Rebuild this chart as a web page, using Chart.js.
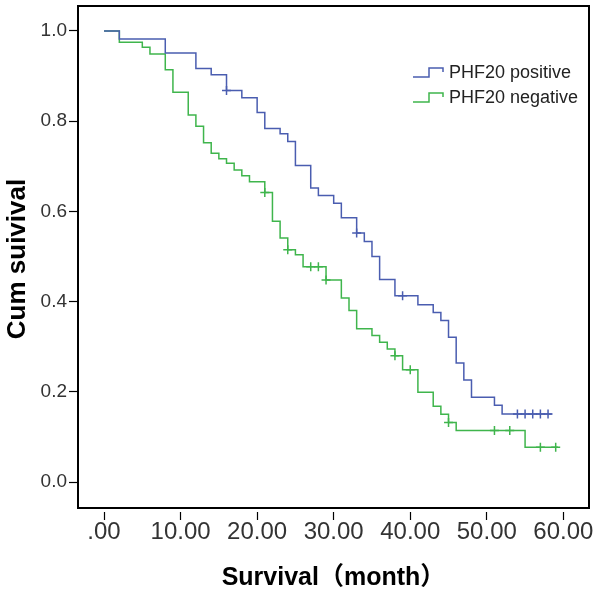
<!DOCTYPE html>
<html>
<head>
<meta charset="utf-8">
<title>PHF20 survival</title>
<script src="https://cdn.jsdelivr.net/npm/chart.js@4.4.1/dist/chart.umd.min.js"></script>
<style>
  html, body { margin: 0; padding: 0; background: #fff; }
  #wrap { position: relative; width: 600px; height: 594px; }
</style>
</head>
<body>
<div id="wrap"><canvas id="km"></canvas></div>
<script>
(function () {
  'use strict';

  /* ---------------------------------------------------------------- data */
  // PHF20 positive: step times (month) and cum survival after each step
  const POS_T = [0, 2, 8, 12, 14, 16, 18, 20, 21, 23, 24, 25, 27, 28, 30, 31, 33, 34, 35, 36, 38, 41, 43, 44, 45, 46, 47, 48, 51, 52, 58.5];
  const POS_S = [1.0, .982, .951, .917, .903, .868, .852, .819, .784, .772, .755, .702, .652, .635, .618, .586, .552, .533, .500, .449, .413, .393, .376, .358, .321, .264, .226, .188, .170, .151, .151];
  // censored cases
  const POS_CT = [16, 33, 39, 54, 55, 56, 57, 58];
  const POS_CS = [.868, .552, .413, .151, .151, .151, .151, .151];

  // PHF20 negative
  const NEG_T = [0, 2, 5, 6, 8, 9, 11, 12, 13, 14, 15, 16, 17, 18, 19, 21, 22, 23, 24, 25, 26, 29, 31, 32, 33, 35, 36, 37, 38, 39, 41, 43, 44, 45, 46, 55, 59.3];
  const NEG_S = [1.0, .975, .964, .949, .914, .864, .814, .789, .752, .729, .717, .707, .692, .679, .666, .642, .578, .541, .515, .504, .477, .448, .408, .380, .340, .325, .310, .295, .280, .249, .199, .168, .150, .132, .114, .077, .077];
  const NEG_CT = [21, 24, 27, 28, 29, 38, 40, 45, 51, 53, 57, 59];
  const NEG_CS = [.642, .515, .477, .477, .448, .280, .249, .132, .114, .114, .077, .077];

  const X_TICKS = [0, 10, 20, 30, 40, 50, 60];
  const Y_TICKS = [0, .2, .4, .6, .8, 1.0];
  const LABELS = ['PHF20 positive', 'PHF20 negative'];

  const COL = { pos: '#4a5db0', neg: '#3fb54c', ink: '#000', tick: '#333' };
  const FONT = "'Liberation Sans', Arial, 'Noto Sans CJK SC', sans-serif";

  function pts(xs, ys) {
    return xs.map(function (x, i) { return { x: x, y: ys[i] }; });
  }

  function curve(label, xs, ys, color) {
    return {
      label: label, data: pts(xs, ys), borderColor: color, borderWidth: 1.5,
      stepped: 'before', pointRadius: 0, fill: false,
    };
  }

  function censor(xs, ys, color) {
    return {
      label: '', data: pts(xs, ys), showLine: false, borderColor: color,
      pointStyle: 'cross', pointRadius: 4.5, pointBorderWidth: 1.5, pointHoverRadius: 0,
    };
  }

  // keep tick labels from pushing the plot box around
  function noPad(s) {
    s.paddingTop = 0; s.paddingBottom = 0; s.paddingLeft = 0; s.paddingRight = 0;
  }

  /* ------------------------------------------------------------ plugins */
  // black box around the plot (bottom edge sits a bit above the x ticks)
  const framePlugin = {
    id: 'frame',
    afterDraw: function (chart) {
      const a = chart.chartArea, ctx = chart.ctx;
      ctx.save();
      ctx.strokeStyle = COL.ink;
      ctx.lineWidth = 2;
      ctx.strokeRect(a.left, a.top, a.right - a.left, a.bottom - 4 - a.top);
      ctx.restore();
    },
  };

  // SPSS-style legend with step icons
  const legendPlugin = {
    id: 'kmLegend',
    afterDraw: function (chart) {
      const ctx = chart.ctx;
      const colors = [COL.pos, COL.neg];
      ctx.save();
      ctx.font = '18px ' + FONT;
      ctx.textBaseline = 'middle';
      LABELS.forEach(function (txt, i) {
        const cy = 73 + i * 25;
        ctx.strokeStyle = colors[i];
        ctx.lineWidth = 1.5;
        ctx.beginPath();
        ctx.moveTo(413, cy + 4);
        ctx.lineTo(429, cy + 4);
        ctx.lineTo(429, cy - 5);
        ctx.lineTo(443, cy - 5);
        ctx.lineTo(443, cy - 1);
        ctx.stroke();
        ctx.fillStyle = '#222';
        ctx.fillText(txt, 449, cy);
      });
      ctx.restore();
    },
  };

  /* -------------------------------------------------------------- chart */
  const cv = document.getElementById('km');
  new Chart(cv, {
    type: 'line',
    data: {
      datasets: [
        curve(LABELS[0], POS_T, POS_S, COL.pos),
        curve(LABELS[1], NEG_T, NEG_S, COL.neg),
        censor(POS_CT, POS_CS, COL.pos),
        censor(NEG_CT, NEG_CS, COL.neg),
      ],
    },
    options: {
      responsive: true, maintainAspectRatio: false, animation: false,
      layout: { padding: { top: 6, right: 11, left: 0, bottom: 0 } },
      plugins: { legend: { display: false }, tooltip: { enabled: false } },
      scales: {
        x: {
          type: 'linear', min: -3.40, max: 63.35,
          afterBuildTicks: function (s) { s.ticks = X_TICKS.map(function (v) { return { value: v }; }); },
          afterFit: function (s) { s.height = 82; noPad(s); },
          grid: { drawOnChartArea: false, drawTicks: true, tickLength: 8, color: COL.ink, tickWidth: 1.2 },
          border: { display: false },
          ticks: {
            color: COL.tick, padding: -2, maxRotation: 0, autoSkip: false,
            font: { family: FONT, size: 24 },
            callback: function (v) { return v === 0 ? '.00' : v.toFixed(2); },
          },
          title: {
            display: true, text: 'Survival（month）', color: COL.ink,
            font: { family: FONT, size: 25, weight: 'bold' }, padding: { top: 0, bottom: 1 },
          },
        },
        y: {
          type: 'linear', min: -0.0665, max: 1.0554,
          afterBuildTicks: function (s) { s.ticks = Y_TICKS.map(function (v) { return { value: v }; }); },
          afterFit: function (s) { s.width = 78; noPad(s); },
          grid: { drawOnChartArea: false, drawTicks: true, tickLength: 9, color: COL.ink, tickWidth: 1.2 },
          border: { display: false },
          ticks: {
            color: COL.tick, padding: 2, autoSkip: false,
            font: { family: FONT, size: 19 },
            callback: function (v) { return v.toFixed(1); },
          },
          title: {
            display: true, text: 'Cum suivival', color: COL.ink,
            font: { family: FONT, size: 26, weight: 'bold' }, padding: { top: 2, bottom: 0 },
          },
        },
      },
    },
    plugins: [framePlugin, legendPlugin],
  });
})();
</script>
</body>
</html>
